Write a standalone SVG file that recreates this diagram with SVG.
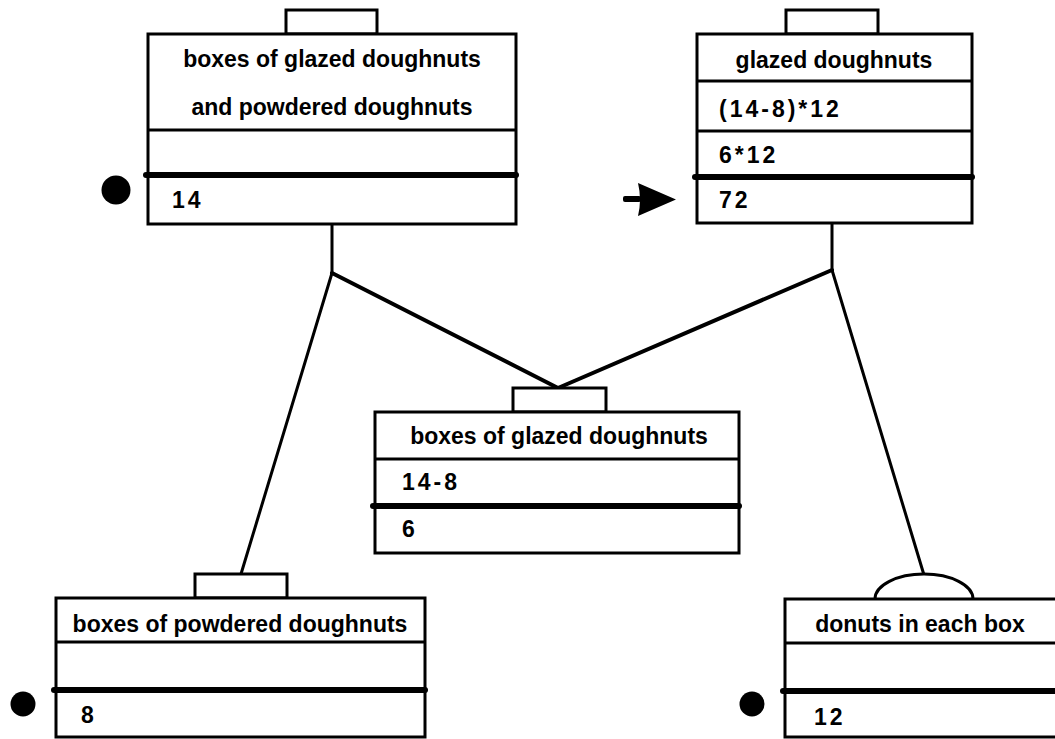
<svg xmlns="http://www.w3.org/2000/svg" width="1055" height="739" viewBox="0 0 1055 739">
  <style>
    .frame{fill:#fff;stroke:#000;stroke-width:3;stroke-linejoin:miter}
    .rule{stroke:#000;stroke-width:3}
    .heavy{stroke:#000;stroke-width:6;stroke-linecap:round}
    .lbl{font-family:"Liberation Sans",Arial,Helvetica,sans-serif;font-weight:bold;font-size:23px;fill:#000}
    .hd{text-anchor:middle}
    .num{letter-spacing:3px}
    .link{stroke:#000;fill:none;stroke-linecap:round;stroke-linejoin:round}
    .thin{stroke-width:3}
    .wide{stroke-width:4}
    .mark{fill:#000}
  </style>
  <rect width="1055" height="739" fill="#fff"/>

  <!-- connectors between quantity frames -->
  <g id="connectors">
    <path class="link thin" d="M332,225 L332,273"/>
    <path class="link thin" d="M832,223 L832,270"/>
    <path class="link wide" d="M332,273 L558,388 L832,270"/>
    <path class="link thin" d="M332,273 L241,574"/>
    <path class="link thin" d="M832,270 L924,575"/>
  </g>

  <!-- boxes of glazed and powdered doughnuts (14) -->
  <g id="node-boxes-total">
    <rect class="frame" x="286" y="10" width="91" height="24"/>
    <rect class="frame" x="148" y="34" width="368" height="190"/>
    <line class="rule" x1="148" y1="130" x2="516" y2="130"/>
    <line class="heavy" x1="146" y1="175" x2="516" y2="175"/>
    <text class="lbl hd" x="332" y="67">boxes of glazed doughnuts</text>
    <text class="lbl hd" x="332" y="115">and powdered doughnuts</text>
    <text class="lbl num" x="172" y="208">14</text>
    <circle class="mark" cx="116" cy="190" r="14.5"/>
  </g>

  <!-- glazed doughnuts (result) -->
  <g id="node-glazed-doughnuts">
    <rect class="frame" x="786" y="10" width="92" height="24"/>
    <rect class="frame" x="697" y="34" width="275" height="189"/>
    <line class="rule" x1="697" y1="81" x2="972" y2="81"/>
    <line class="rule" x1="697" y1="131" x2="972" y2="131"/>
    <line class="heavy" x1="695" y1="177" x2="972" y2="177"/>
    <text class="lbl hd" x="834" y="68">glazed doughnuts</text>
    <text class="lbl num" x="719" y="117">(14-8)*12</text>
    <text class="lbl num" x="719" y="163">6*12</text>
    <text class="lbl num" x="719" y="208">72</text>
    <rect class="mark" x="623" y="196" width="18" height="6" rx="2"/>
    <path class="mark" d="M638,183 L676,199.5 L638,216 Q642,199.5 638,183 Z"/>
  </g>

  <!-- boxes of glazed doughnuts (intermediate) -->
  <g id="node-boxes-glazed">
    <rect class="frame" x="513" y="388" width="93" height="24"/>
    <rect class="frame" x="375" y="412" width="364" height="141"/>
    <line class="rule" x1="375" y1="459" x2="739" y2="459"/>
    <line class="heavy" x1="373" y1="506" x2="739" y2="506"/>
    <text class="lbl hd" x="559" y="444">boxes of glazed doughnuts</text>
    <text class="lbl num" x="402" y="490">14-8</text>
    <text class="lbl num" x="402" y="537">6</text>
  </g>

  <!-- boxes of powdered doughnuts (8) -->
  <g id="node-boxes-powdered">
    <rect class="frame" x="195" y="574" width="92" height="24"/>
    <rect class="frame" x="56" y="598" width="369" height="139"/>
    <line class="rule" x1="56" y1="642" x2="425" y2="642"/>
    <line class="heavy" x1="54" y1="690" x2="425" y2="690"/>
    <text class="lbl hd" x="240" y="632">boxes of powdered doughnuts</text>
    <text class="lbl num" x="81" y="723">8</text>
    <circle class="mark" cx="23" cy="704" r="12.5"/>
  </g>

  <!-- donuts in each box (12) -->
  <g id="node-donuts-per-box">
    <path class="frame" d="M875,599 A49,25 0 0 1 973,599"/>
    <rect class="frame" x="785" y="599" width="280" height="138"/>
    <line class="rule" x1="785" y1="643" x2="1065" y2="643"/>
    <line class="heavy" x1="783" y1="691" x2="1065" y2="691"/>
    <text class="lbl hd" x="920" y="632">donuts in each box</text>
    <text class="lbl num" x="814" y="725">12</text>
    <circle class="mark" cx="752" cy="704" r="12.5"/>
  </g>
</svg>
